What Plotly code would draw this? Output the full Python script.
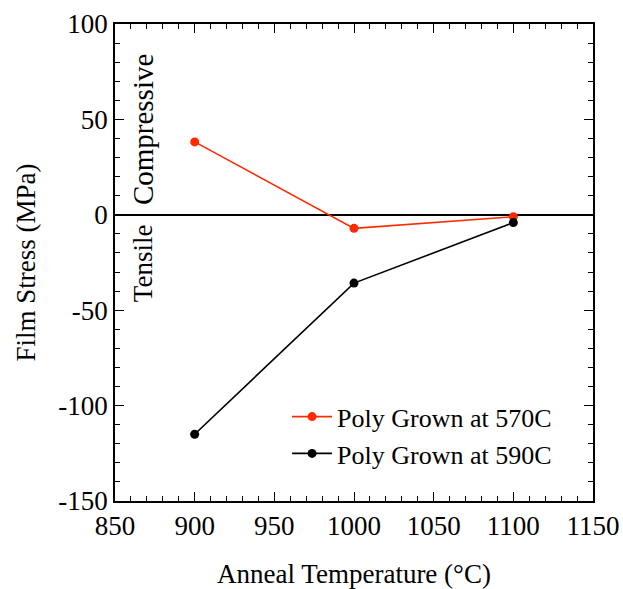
import plotly.graph_objects as go

temps = [900, 1000, 1100]
stress_570 = [38.2, -7.1, -1.0]
stress_590 = [-115.0, -35.8, -4.1]
series_names = ["Poly Grown at 570C", "Poly Grown at 590C"]
x_ticks = [850, 900, 950, 1000, 1050, 1100, 1150]
y_ticks = [-150, -100, -50, 0, 50, 100]
y_tick_labels = ["-150", "-100", "-50", "0", "50", "100"]

FONT = "Liberation Serif"

fig = go.Figure()
fig.add_trace(go.Scatter(x=temps, y=stress_570, mode="lines+markers", name=series_names[0],
                         line=dict(color="#ff2a00", width=1.6),
                         marker=dict(color="#ff2a00", size=9)))
fig.add_trace(go.Scatter(x=temps, y=stress_590, mode="lines+markers", name=series_names[1],
                         line=dict(color="black", width=1.6),
                         marker=dict(color="black", size=9)))

axis_common = dict(showgrid=False, showline=True, linecolor="black", linewidth=1.6,
                   mirror="allticks", ticks="inside", ticklen=9, tickwidth=1.2,
                   tickcolor="black", automargin=False,
                   tickfont=dict(family=FONT, size=27, color="black"))

fig.update_xaxes(range=[850, 1150], tickvals=x_ticks, zeroline=False,
                 minor=dict(dtick=10, ticks="inside", ticklen=5, tickcolor="black", tickwidth=1),
                 title=dict(text="Anneal Temperature (°C)", font=dict(family=FONT, size=27, color="black"),
                            standoff=25),
                 **axis_common)
fig.update_yaxes(range=[-150, 100], tickvals=y_ticks, ticktext=y_tick_labels,
                 zeroline=True, zerolinecolor="black", zerolinewidth=1.6,
                 minor=dict(dtick=10, ticks="inside", ticklen=5, tickcolor="black", tickwidth=1),
                 title=dict(text="Film Stress (MPa)", font=dict(family=FONT, size=27, color="black"),
                            standoff=15),
                 **axis_common)

fig.add_annotation(text="Compressive", xref="paper", yref="paper", x=0.059, y=0.778,
                   xanchor="center", yanchor="middle",
                   textangle=-90, showarrow=False,
                   font=dict(family=FONT, size=29, color="black"))
fig.add_annotation(text="Tensile", xref="paper", yref="paper", x=0.059, y=0.499,
                   xanchor="center", yanchor="middle",
                   textangle=-90, showarrow=False,
                   font=dict(family=FONT, size=27, color="black"))

fig.update_layout(
    width=623, height=589,
    margin=dict(l=115, r=30, t=24, b=88),
    paper_bgcolor="white", plot_bgcolor="white",
    showlegend=True,
    legend=dict(x=0.36, y=0.226, xanchor="left", yanchor="top",
                bgcolor="rgba(0,0,0,0)", font=dict(family=FONT, size=26, color="black"),
                itemwidth=40, tracegroupgap=0),
)

fig.write_html("out.html", config={"displayModeBar": False},
               post_script="document.body.style.margin='0';")
